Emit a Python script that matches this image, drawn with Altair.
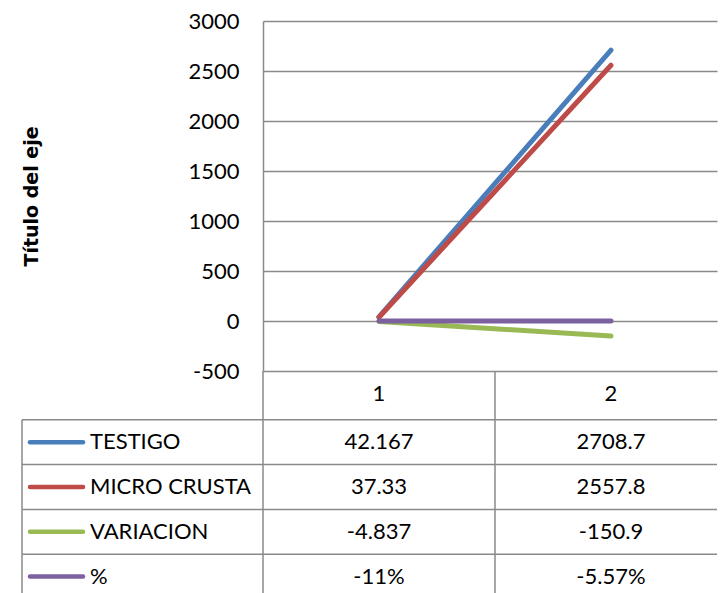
import altair as alt
import pandas as pd

# ---------------- data ----------------
categories = [1, 2]
category_labels = ["1", "2"]
series = ["TESTIGO", "MICRO CRUSTA", "VARIACION", "%"]
testigo = [42.167, 2708.7]
micro_crusta = [37.33, 2557.8]
variacion = [-4.837, -150.9]
porcentaje = [-0.11, -0.0557]
testigo_txt = ["42.167", "2708.7"]
micro_txt = ["37.33", "2557.8"]
variacion_txt = ["-4.837", "-150.9"]
porcentaje_txt = ["-11%", "-5.57%"]
colors = ["#4A7EBB", "#BE4B48", "#98B954", "#7D60A0"]
y_ticks = [-500, 0, 500, 1000, 1500, 2000, 2500, 3000]
y_title = "Título del eje"

# ---------------- style ----------------
FONT = "Lato"
FS = 22
GRID = "#8A8A8A"
GW = 1.5
W, H_PLOT, H_TABLE = 454, 350, 223

values = [testigo, micro_crusta, variacion, porcentaje]
texts = [testigo_txt, micro_txt, variacion_txt, porcentaje_txt]

line_rows = []
for s, vals in zip(series, values):
    for c, v in zip(categories, vals):
        line_rows.append({"serie": s, "cat": c, "valor": v})
df_lines = pd.DataFrame(line_rows)

x_scale = alt.Scale(domain=[0.5, 2.457], nice=False, zero=False)
color_scale = alt.Scale(domain=series, range=colors)

lines = alt.Chart(df_lines).mark_line(
    strokeWidth=5, strokeCap="round", strokeJoin="round"
).encode(
    x=alt.X("cat:Q", scale=x_scale, axis=None),
    y=alt.Y(
        "valor:Q",
        scale=alt.Scale(domain=[-500, 3000], nice=False, zero=False),
        axis=alt.Axis(
            values=y_ticks, title=y_title, grid=True, gridColor=GRID, gridWidth=GW,
            domainColor=GRID, domainWidth=GW, ticks=False,
            labelFont=FONT, labelFontSize=FS, labelColor="black", labelPadding=24,
            labelFlush=False, labelExpr="'' + datum.value",
            titleFont="DejaVu Sans", titleFontSize=19, titleFontWeight="bold",
            titleColor="black", titlePadding=146,
        ),
    ),
    color=alt.Color("serie:N", scale=color_scale, legend=None),
).properties(width=W, height=H_PLOT)

# ---------------- table ----------------
row_domain = ["cab"] + series
tbl = []
for c, lab in zip(categories, category_labels):
    tbl.append({"row": "cab", "cat": c, "txt": lab})
df_hdr = pd.DataFrame(tbl)
tbl = []
for s, t in zip(series, texts):
    for c, v in zip(categories, t):
        tbl.append({"row": s, "cat": c, "txt": v})
df_tbl = pd.DataFrame(tbl)
df_leg = pd.DataFrame({"row": series, "serie": series})

y_row = alt.Scale(type="band", domain=row_domain, range=[4, 228],
                  paddingInner=0, paddingOuter=0)

text_props = dict(font=FONT, fontSize=FS, color="black", baseline="middle")

hdr = alt.Chart(df_hdr).mark_text(align="center", dy=-3, **text_props).encode(
    x=alt.X("cat:Q", scale=x_scale, axis=None),
    y=alt.Y("row:N", scale=y_row, axis=None),
    text="txt:N",
)

cells = alt.Chart(df_tbl).mark_text(align="center", **text_props).encode(
    x=alt.X("cat:Q", scale=x_scale, axis=None),
    y=alt.Y("row:N", scale=y_row, axis=None),
    text="txt:N",
)

leg_txt = alt.Chart(df_leg).mark_text(align="left", **text_props).encode(
    x=alt.value(-173),
    y=alt.Y("row:N", scale=y_row, axis=None),
    text="row:N",
)

leg_sw = alt.Chart(df_leg).mark_rule(strokeWidth=4.5, strokeCap="round").encode(
    x=alt.value(-233), x2=alt.value(-180),
    y=alt.Y("row:N", scale=y_row, axis=None),
    color=alt.Color("serie:N", scale=color_scale, legend=None),
)

hlines = alt.Chart(df_leg).mark_rule(color=GRID, strokeWidth=GW).encode(
    x=alt.value(-241), x2=alt.value(W),
    y=alt.Y("row:N", scale=y_row, axis=None, bandPosition=0),
)

vdf = pd.DataFrame({"pos": [0.5, 1.5]})
vlines = alt.Chart(vdf).mark_rule(color=GRID, strokeWidth=GW).encode(
    x=alt.X("pos:Q", scale=x_scale, axis=None),
    y=alt.value(0), y2=alt.value(H_TABLE),
)

left_line = alt.Chart(df_leg.head(1)).mark_rule(color=GRID, strokeWidth=GW).encode(
    x=alt.value(-241),
    y=alt.Y("row:N", scale=y_row, axis=None, bandPosition=0),
    y2=alt.value(H_TABLE),
)

table = alt.layer(hlines, vlines, left_line, leg_sw, leg_txt, hdr, cells).properties(
    width=W, height=H_TABLE
)

chart = alt.vconcat(lines, table, spacing=0, bounds="flush").configure_view(
    stroke=None
).properties(padding={"left": 13, "top": 2, "right": 0, "bottom": 0})

chart.save("out.html", embed_options={"renderer": "svg", "actions": False})
